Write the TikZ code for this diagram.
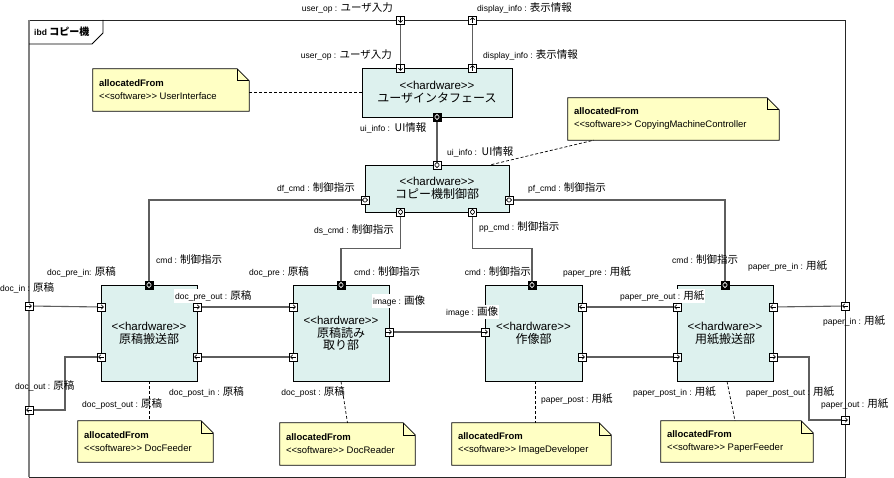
\documentclass[tikz,border=0pt]{standalone}
\usepackage{fontspec}
\setmainfont{Liberation Sans}
\newfontfamily\jpf{Noto Sans CJK JP}
\usetikzlibrary{arrows.meta,calc}
\pgfdeclarelayer{bg}
\pgfsetlayers{bg,main}
\definecolor{boxc}{HTML}{DDF1EE}
\definecolor{notec}{HTML}{FFFFC4}
\definecolor{linec}{HTML}{5E5E5E}
\newcommand\jp[1]{{\jpf\fontsize{10.5}{12}\selectfont #1}}
\newcommand\jpb[1]{{\jpf\fontsize{12}{16}\selectfont #1}}
\newcommand\stereo[1]{<{}<#1>{}>}
\newcommand\hwt[1]{{\fontsize{11.5}{16}\selectfont \stereo{hardware}}\\[1pt]\jpb{#1}}
\newcommand\notefold[1]{%
  \filldraw[fill=notec,draw=black,line width=0.8pt] (#1.north west) -- ([xshift=-12pt]#1.north east) -- ([yshift=-12pt]#1.north east) -- (#1.south east) -- (#1.south west) -- cycle;
  \draw[line width=0.6pt] ([xshift=-12pt]#1.north east) -- ([xshift=-12pt,yshift=-12pt]#1.north east) -- ([yshift=-12pt]#1.north east);}
\tikzset{
  glyph/.style={line width=0.7pt, draw=black},
  tip/.style={-{Straight Barb[length=2pt,width=4.4pt,line width=0.7pt]}},
  port/.style={draw=black, fill=white, minimum size=8pt, inner sep=0pt, line width=0.6pt},
  pR/.style={port, path picture={\coordinate (pc) at (path picture bounding box.center);
     \draw[glyph,tip] ([xshift=-2.8pt]pc) -- ([xshift=2.8pt]pc);}},
  pL/.style={port, path picture={\coordinate (pc) at (path picture bounding box.center);
     \draw[glyph,tip] ([xshift=2.8pt]pc) -- ([xshift=-2.8pt]pc);}},
  pU/.style={port, path picture={\coordinate (pc) at (path picture bounding box.center);
     \draw[glyph,tip] ([yshift=-2.8pt]pc) -- ([yshift=2.8pt]pc);}},
  pD/.style={port, path picture={\coordinate (pc) at (path picture bounding box.center);
     \draw[glyph,tip] ([yshift=2.8pt]pc) -- ([yshift=-2.8pt]pc);}},
  pH/.style={port, path picture={\coordinate (pc) at (path picture bounding box.center);
     \draw[glyph] ([shift={(-0.4pt,2.2pt)}]pc) -- ([shift={(-2.6pt,0pt)}]pc) -- ([shift={(-0.4pt,-2.2pt)}]pc);
     \draw[glyph] ([shift={(0.4pt,2.2pt)}]pc) -- ([shift={(2.6pt,0pt)}]pc) -- ([shift={(0.4pt,-2.2pt)}]pc);}},
  pV/.style={port, path picture={\coordinate (pc) at (path picture bounding box.center);
     \draw[glyph] ([shift={(2.2pt,0.4pt)}]pc) -- ([shift={(0pt,2.6pt)}]pc) -- ([shift={(-2.2pt,0.4pt)}]pc);
     \draw[glyph] ([shift={(2.2pt,-0.4pt)}]pc) -- ([shift={(0pt,-2.6pt)}]pc) -- ([shift={(-2.2pt,-0.4pt)}]pc);}},
  pB/.style={port, fill=black, path picture={\coordinate (pc) at (path picture bounding box.center);
     \draw[line width=0.7pt, white] ([shift={(2.2pt,0.4pt)}]pc) -- ([shift={(0pt,2.6pt)}]pc) -- ([shift={(-2.2pt,0.4pt)}]pc);
     \draw[line width=0.7pt, white] ([shift={(2.2pt,-0.4pt)}]pc) -- ([shift={(0pt,-2.6pt)}]pc) -- ([shift={(-2.2pt,-0.4pt)}]pc);}},
  hw/.style={draw=black, fill=boxc, line width=0.8pt, align=center, inner sep=0pt},
  conn/.style={draw=linec, line width=1.1pt},
  dashl/.style={draw=black, line width=0.7pt, dash pattern=on 3pt off 2pt},
  lab/.style={font=\fontsize{8.5}{10}\selectfont, inner sep=0pt},
  labw/.style={lab, fill=white, inner xsep=1pt, inner ysep=1.5pt},
  notebox/.style={inner sep=0pt},
  notetext/.style={anchor=west, align=left, inner sep=0pt, font=\fontsize{9.5}{13}\selectfont},
}
\begin{document}
\begin{tikzpicture}[x=1pt,y=-1pt]
\useasboundingbox (0,0) rectangle (894,478);
\begin{pgfonlayer}{bg}
\fill[white] (0,0) rectangle (894,478);
\end{pgfonlayer}

% frame
\draw[line width=0.8pt, draw=black!85] (29,20) -- (845,20) -- (845,477) -- (29,477);
\draw[line width=1.4pt, draw=black!50] (29,20) -- (29,477);
\draw[line width=0.8pt] (29,44) -- (92,44) -- (103,33) -- (103,20);
\node[anchor=west, inner sep=0pt, font=\fontsize{8.5}{10}\selectfont\bfseries] (title) at (34,32) {ibd {\jpf\fontsize{10}{12}\selectfont コピー機}};

% notes
\node[notebox, minimum width=156pt, minimum height=42pt] (nUI) at (171,90) {};
\notefold{nUI}
\node[notetext] (nUIt) at ([xshift=6pt]nUI.west) {\textbf{allocatedFrom}\\\stereo{software} UserInterface};
\node[notebox, minimum width=211pt, minimum height=42pt] (nCtrl) at (673.5,119) {};
\notefold{nCtrl}
\node[notetext] (nCtrlt) at ([xshift=6pt]nCtrl.west) {\textbf{allocatedFrom}\\\stereo{software} CopyingMachineController};
\node[notebox, minimum width=135pt, minimum height=41pt] (nDF) at (145.5,441.5) {};
\notefold{nDF}
\node[notetext] (nDFt) at ([xshift=6pt]nDF.west) {\textbf{allocatedFrom}\\\stereo{software} DocFeeder};
\node[notebox, minimum width=135pt, minimum height=42pt] (nDR) at (347.5,444) {};
\notefold{nDR}
\node[notetext] (nDRt) at ([xshift=6pt]nDR.west) {\textbf{allocatedFrom}\\\stereo{software} DocReader};
\node[notebox, minimum width=159pt, minimum height=42pt] (nID) at (531.5,444) {};
\notefold{nID}
\node[notetext] (nIDt) at ([xshift=6pt]nID.west) {\textbf{allocatedFrom}\\\stereo{software} ImageDeveloper};
\node[notebox, minimum width=152pt, minimum height=41pt] (nPF) at (737,441.5) {};
\notefold{nPF}
\node[notetext] (nPFt) at ([xshift=6pt]nPF.west) {\textbf{allocatedFrom}\\\stereo{software} PaperFeeder};

% blocks
\node[hw, minimum width=150pt, minimum height=49pt] (ui) at (437,92.5) {\hwt{ユーザインタフェース}};
\node[hw, minimum width=144pt, minimum height=47pt] (ctrl) at (437,188.5) {\hwt{コピー機制御部}};
\node[hw, minimum width=96pt, minimum height=96pt] (b1) at (149,333) {\hwt{原稿搬送部}};
\node[hw, minimum width=96pt, minimum height=96pt] (b2) at (341,333) {{\fontsize{11.5}{16}\selectfont \stereo{hardware}}\\[1pt]\jpb{原稿読み}\\\jpb{取り部}};
\node[hw, minimum width=97pt, minimum height=96pt] (b3) at (533.5,333) {\hwt{作像部}};
\node[hw, minimum width=96pt, minimum height=96pt] (b4) at (725,333) {\hwt{用紙搬送部}};

% dashed allocations
\draw[dashl] (nUI.east |- ui.west) -- (ui.west);
\draw[dashl] ([xshift=-18pt]ctrl.north east) -- ([xshift=26pt]nCtrl.south west);
\draw[dashl] (b1.south) -- (b1.south |- nDF.north);
\draw[dashl] (b2.south) -- (nDR.north);
\draw[dashl] ([xshift=1.5pt]b3.south) -- ([xshift=1.5pt]b3.south |- nID.north);
\draw[dashl] ([xshift=2pt]b4.south) -- ([xshift=-2pt]nPF.north);

% ports
\node[pD] (fUser) at (400.5,20) {};
\node[pU] (fDisp) at (472.5,20) {};
\node[pD] (uUser) at (400.5,68) {};
\node[pU] (uDisp) at (472.5,68) {};
\node[pB] (uInfo) at (437,117) {};
\node[pV] (cInfo) at (437,165) {};
\node[pH] (cDf) at (365,200) {};
\node[pH] (cPf) at (509,200) {};
\node[pV] (cDs) at (400.5,212) {};
\node[pV] (cPp) at (472.5,212) {};
\node[pB] (b1cmd) at (149,285) {};
\node[pB] (b2cmd) at (341,285) {};
\node[pB] (b3cmd) at (532,285) {};
\node[pB] (b4cmd) at (725,285) {};
\node[pR] (fDocIn) at (29,306) {};
\node[pL] (fDocOut) at (29,410) {};
\node[pL] (fPaperIn) at (845,306) {};
\node[pR] (fPaperOut) at (845,420) {};
\node[pR] (b1L1) at (101,307) {};
\node[pL] (b1L2) at (101,357) {};
\node[pR] (b1R1) at (197,307) {};
\node[pL] (b1R2) at (197,357) {};
\node[pR] (b2L1) at (293,307) {};
\node[pL] (b2L2) at (293,357) {};
\node[pR] (b2R) at (389,332) {};
\node[pR] (b3L) at (485,332) {};
\node[pL] (b3R1) at (582,307) {};
\node[pR] (b3R2) at (582,357) {};
\node[pL] (b4L1) at (677,307) {};
\node[pR] (b4L2) at (677,357) {};
\node[pL] (b4R1) at (773,307) {};
\node[pR] (b4R2) at (773,357) {};

% connectors (beneath ports)
\begin{pgfonlayer}{bg}
\draw[conn] (fUser.center) -- (uUser.center);
\draw[conn] (fDisp.center) -- (uDisp.center);
\draw[conn] (uInfo.center) -- (cInfo.center);
\draw[conn] (cDf.center) -| (b1cmd.center);
\draw[conn] (cPf.center) -| (b4cmd.center);
\draw[conn] (cDs.center) |- ($(cDs.center)!0.5!(b2cmd.center)$) -| (b2cmd.center);
\draw[conn] (cPp.center) |- ($(cPp.center)!0.5!(b3cmd.center)$) -| (b3cmd.center);
\draw[conn] (fDocIn.center) -- (b1L1.center);
\draw[conn] (b1L2.center) -- ++(-36,0) |- (fDocOut.center);
\draw[conn] (b1R1.center) -- (b2L1.center);
\draw[conn] (b2L2.center) -- (b1R2.center);
\draw[conn] (b2R.center) -- (b3L.center);
\draw[conn] (b4L1.center) -- (b3R1.center);
\draw[conn] (b3R2.center) -- (b4L2.center);
\draw[conn] (fPaperIn.center) -- (b4R1.center);
\draw[conn] (b4R2.center) -- ++(36,0) |- (fPaperOut.center);
\end{pgfonlayer}

% labels
\node[lab, anchor=east] (l1) at (393,8) {user\_op : \jp{ユーザ入力}};
\node[lab, anchor=west] (l2) at (477,8) {display\_info : \jp{表示情報}};
\node[lab, anchor=east] (l3) at (392,55) {user\_op : \jp{ユーザ入力}};
\node[lab, anchor=west] (l4) at (483,55) {display\_info : \jp{表示情報}};
\node[lab, anchor=west] (l5) at (360,128) {ui\_info :\ \ \jp{UI情報}};
\node[labw, anchor=west] (l6) at (446,152) {ui\_info :\ \ \jp{UI情報}};
\node[lab, anchor=east] (l7) at (355,188) {df\_cmd : \jp{制御指示}};
\node[lab, anchor=west] (l8) at (528,188) {pf\_cmd : \jp{制御指示}};
\node[lab, anchor=east] (l9) at (394,230) {ds\_cmd : \jp{制御指示}};
\node[lab, anchor=west] (l10) at (479,227) {pp\_cmd : \jp{制御指示}};
\node[lab, anchor=west] (l11) at (156,260) {cmd : \jp{制御指示}};
\node[lab, anchor=west] (l12) at (354,272) {cmd : \jp{制御指示}};
\node[lab, anchor=east] (l13) at (531,272) {cmd : \jp{制御指示}};
\node[lab, anchor=west] (l14) at (672,260) {cmd : \jp{制御指示}};
\node[lab, anchor=west] (l15) at (47,272) {doc\_pre\_in: \jp{原稿}};
\node[lab, anchor=west] (l16) at (0,288) {doc\_in : \jp{原稿}};
\node[lab, anchor=west] (l17) at (249,272) {doc\_pre : \jp{原稿}};
\node[labw, anchor=west] (l18) at (174,296) {doc\_pre\_out : \jp{原稿}};
\node[labw, anchor=west] (l19) at (372,301) {image : \jp{画像}};
\node[labw, anchor=west] (l20) at (445,312) {image : \jp{画像}};
\node[lab, anchor=west] (l21) at (563,272) {paper\_pre : \jp{用紙}};
\node[lab, anchor=west] (l22) at (748,266) {paper\_pre\_in : \jp{用紙}};
\node[labw, anchor=west] (l23) at (619,296) {paper\_pre\_out : \jp{用紙}};
\node[lab, anchor=west] (l24) at (823,321) {paper\_in : \jp{用紙}};
\node[lab, anchor=west] (l25) at (15,386) {doc\_out : \jp{原稿}};
\node[lab, anchor=west] (l26) at (82,404) {doc\_post\_out : \jp{原稿}};
\node[lab, anchor=west] (l27) at (169,392) {doc\_post\_in : \jp{原稿}};
\node[lab, anchor=east] (l28) at (345,392) {doc\_post : \jp{原稿}};
\node[lab, anchor=west] (l29) at (541,399) {paper\_post : \jp{用紙}};
\node[lab, anchor=west] (l30) at (633,392) {paper\_post\_in : \jp{用紙}};
\node[lab, anchor=west] (l31) at (746,392) {paper\_post\_out : \jp{用紙}};
\node[lab, anchor=west] (l32) at (821,404) {paper\_out : \jp{用紙}};
\end{tikzpicture}
\end{document}
